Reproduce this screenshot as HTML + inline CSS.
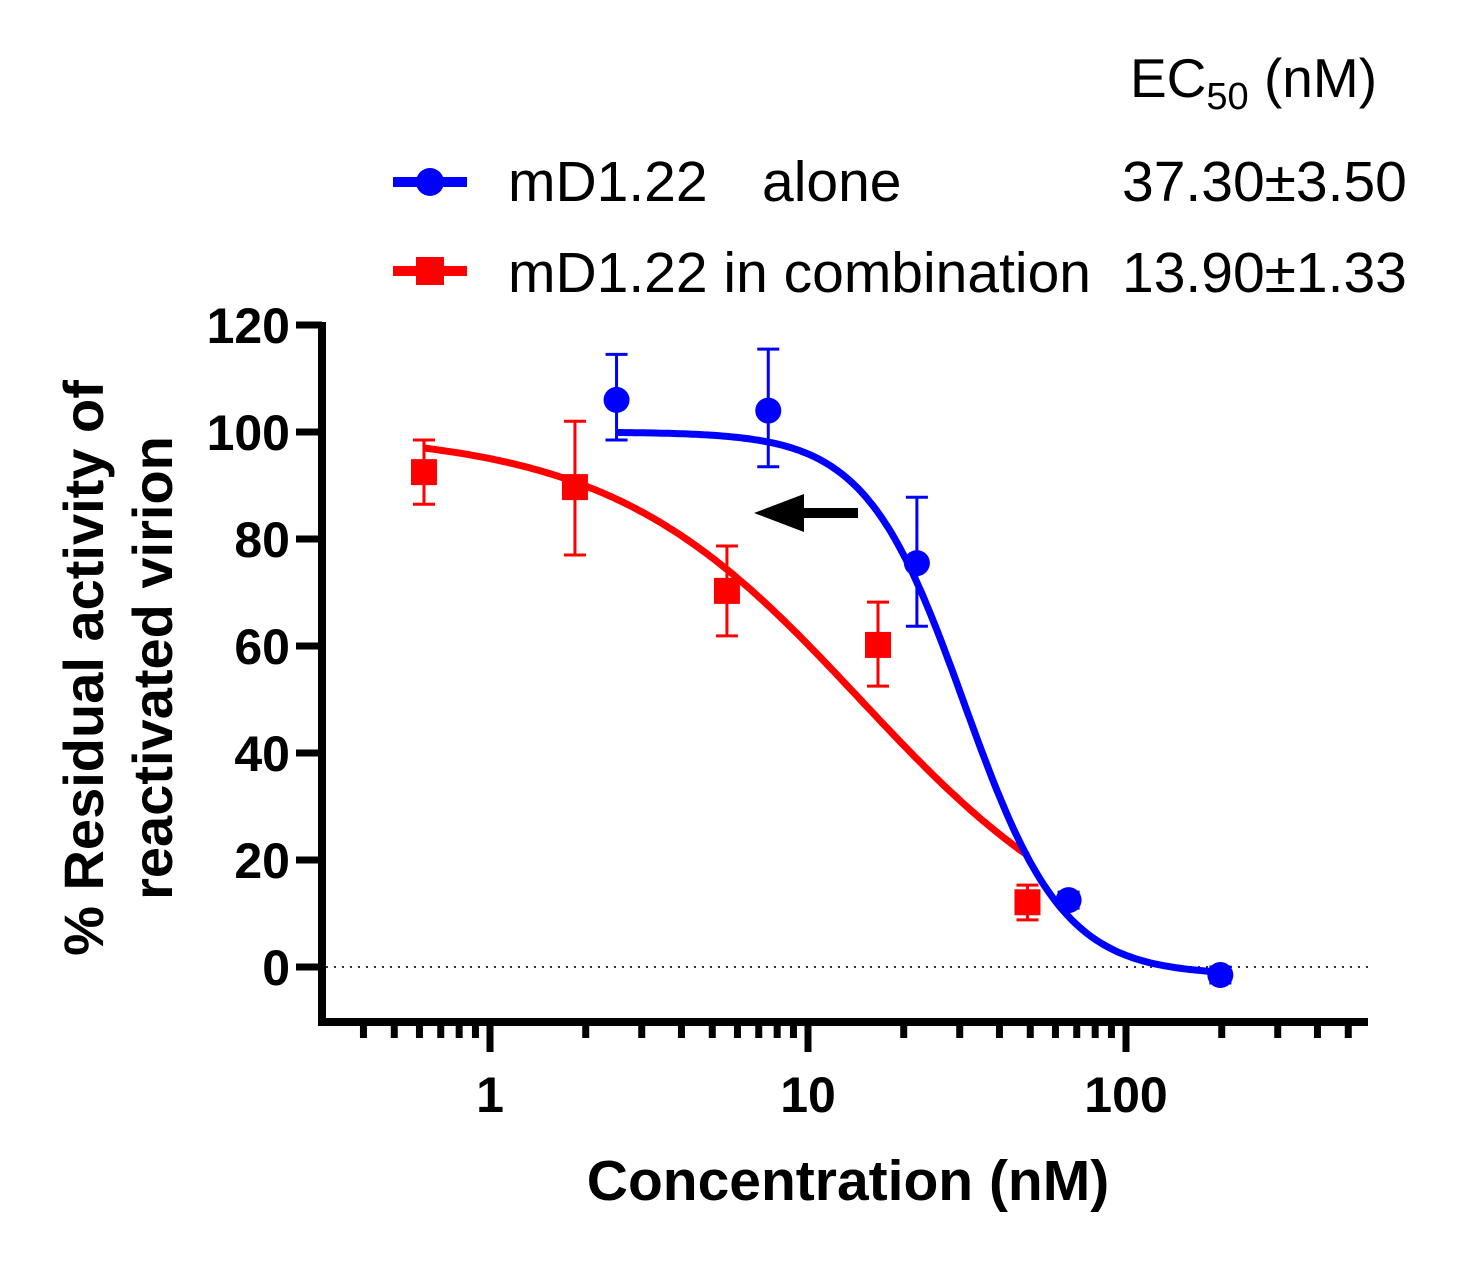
<!DOCTYPE html>
<html><head><meta charset="utf-8"><style>
html,body{margin:0;padding:0;background:#fff;}
svg text{font-family:"Liberation Sans",Arial,sans-serif;}
</style></head><body>
<svg id="chart" width="1476" height="1256" viewBox="0 0 1476 1256" xmlns="http://www.w3.org/2000/svg">
<g id="g"></g>
</svg>
<script>
const blueX=[2.5,7.5,22,66,198];
const blueY=[106,104,75.5,12.5,-1.5];
const blueHi=[114.5,115.5,87.8,14,0];
const blueLo=[98.5,93.5,63.7,11,-3];
const redX=[0.62,1.85,5.56,16.6,49];
const redY=[92.5,89.7,70.3,60.2,12.1];
const redHi=[98.5,102,78.7,68.2,15.3];
const redLo=[86.5,77,61.9,52.5,8.8];
const blueFit=[100,-1.5,31,2.8]; // top,bottom,ec50,hill
const redFit=[100,0,14.6,1.1];
const yTicks=[0,20,40,60,80,100,120];
const xMajor=[1,10,100];

const NS="http://www.w3.org/2000/svg";
const g=document.getElementById('g');
function X(v){return 490+318*Math.log10(v);}
function Y(v){return 967-v*5.35;}
function el(t,a,p){const e=document.createElementNS(NS,t);for(const k in a)e.setAttribute(k,a[k]);(p||g).appendChild(e);return e;}
function hill(f,x){return f[1]+(f[0]-f[1])/(1+Math.pow(x/f[2],f[3]));}

let e=el('line',{x1:322,y1:322,x2:322,y2:1026,stroke:'#000','stroke-width':8});

e=el('line',{x1:318,y1:1022,x2:1368,y2:1022,stroke:'#000','stroke-width':8});

e=el('line',{x1:326,y1:Y(0),x2:1368,y2:Y(0),stroke:'#333','stroke-width':2,'stroke-dasharray':'2 6'});

yTicks.forEach(v=>{
 let t=el('line',{x1:296,y1:Y(v),x2:322,y2:Y(v),stroke:'#000','stroke-width':7});
 
 let l=el('text',{x:290,y:Y(v)+18,'text-anchor':'end','font-size':50,'font-weight':'bold'});
 l.textContent=v;
});
for(let d=-1;d<=2;d++){for(let m=1;m<=9;m++){
 const v=m*Math.pow(10,d); if(v<0.4||v>560)continue;
 const major=(m===1);
 let t=el('line',{x1:X(v),y1:1022,x2:X(v),y2:major?1052:1038,stroke:'#000','stroke-width':7});
 
}}
xMajor.forEach(v=>{
 let l=el('text',{x:X(v),y:1112,'text-anchor':'middle','font-size':50,'font-weight':'bold'});
 l.textContent=v;
});
e=el('text',{x:848,y:1200,'text-anchor':'middle','font-size':57,'font-weight':'bold'});
e.textContent='Concentration (nM)';
e=el('text',{x:0,y:0,'text-anchor':'middle','font-size':56,'font-weight':'bold',transform:'translate(103,668) rotate(-90)'});
e.textContent='% Residual activity of';
e=el('text',{x:0,y:0,'text-anchor':'middle','font-size':56,'font-weight':'bold',transform:'translate(172,668) rotate(-90)'});
e.textContent='reactivated virion';

function curve(f,x0,x1,color,name){
 let d='';for(let i=0;i<=200;i++){const lx=Math.log10(x0)+(Math.log10(x1)-Math.log10(x0))*i/200;const x=Math.pow(10,lx);d+=(i?'L':'M')+X(x).toFixed(1)+','+Y(hill(f,x)).toFixed(1);}
 let p=el('path',{d:d,fill:'none',stroke:color,'stroke-width':7});
 
}
function series(xs,ys,hi,lo,color,shape,name){
 xs.forEach((x,i)=>{
  const cx=X(x);
  let b=el('path',{d:`M${cx},${Y(hi[i])}V${Y(lo[i])}M${cx-11},${Y(hi[i])}H${cx+11}M${cx-11},${Y(lo[i])}H${cx+11}`,stroke:color,'stroke-width':3,fill:'none'});
  
  let m;
  if(shape==='c')m=el('circle',{cx:cx,cy:Y(ys[i]),r:13,fill:color});
  else m=el('rect',{x:cx-13,y:Y(ys[i])-13,width:26,height:26,fill:color});
  
 });
}
curve(redFit,redX[0],redX[redX.length-1],'#ff0000','combination-fit-curve');
curve(blueFit,blueX[0],blueX[blueX.length-1],'#0000ff','alone-fit-curve');
series(redX,redY,redHi,redLo,'#ff0000','s','combination');
series(blueX,blueY,blueHi,blueLo,'#0000ff','c','alone');

e=el('path',{d:'M858,513H790',stroke:'#000','stroke-width':10,fill:'none'});

e=el('path',{d:'M754,513L804,494L804,532Z',fill:'#000'});


e=el('line',{x1:393,y1:182,x2:467,y2:182,stroke:'#0000ff','stroke-width':10});

e=el('circle',{cx:430,cy:182,r:14,fill:'#0000ff'});

e=el('line',{x1:393,y1:271,x2:467,y2:271,stroke:'#ff0000','stroke-width':10});

e=el('rect',{x:416,y:257,width:28,height:28,fill:'#ff0000'});

e=el('text',{x:508,y:201,'font-size':57});
e.innerHTML='mD1.22<tspan x="762">alone</tspan>';
e=el('text',{x:508,y:292,'font-size':57});
e.textContent='mD1.22 in combination';
e=el('text',{x:1122,y:201,'font-size':57});
e.textContent='37.30±3.50';
e=el('text',{x:1122,y:292,'font-size':57});
e.textContent='13.90±1.33';
e=el('text',{x:1130,y:97,'font-size':55});
e.innerHTML='EC<tspan font-size="38" dy="12">50</tspan><tspan dy="-12"> (nM)</tspan>';

</script>
</body></html>
